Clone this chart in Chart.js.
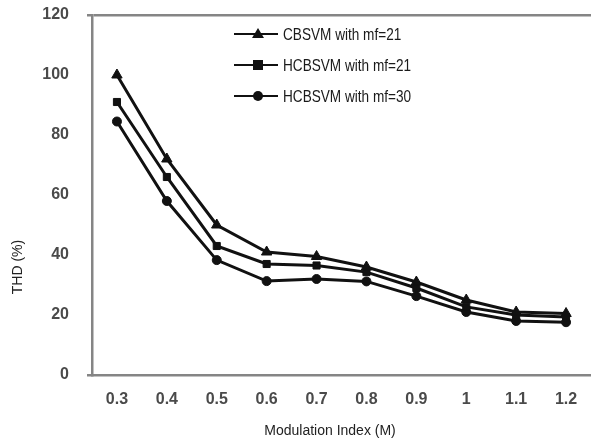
<!DOCTYPE html>
<html>
<head>
<meta charset="utf-8">
<script src="https://cdn.jsdelivr.net/npm/chart.js@4"></script>
<style>
  html, body { margin: 0; padding: 0; background: #fff; }
  #wrap { width: 591px; height: 442px; }
</style>
</head>
<body>
<div id="wrap"><canvas id="thd"></canvas></div>
<script>
const modIndex = ['0.3', '0.4', '0.5', '0.6', '0.7', '0.8', '0.9', '1', '1.1', '1.2'];
const cbsvm21  = [100, 72, 50, 41, 39.5, 36, 31, 25, 21, 20.5];
const hcbsvm21 = [91, 66, 43, 37, 36.5, 34.3, 29, 22.7, 20, 19.3];
const hcbsvm30 = [84.5, 58, 38.3, 31.3, 32, 31.2, 26.3, 21, 18, 17.6];
const yTicks = [0, 20, 40, 60, 80, 100, 120];

const axisGray = '#858585';

// legend + axis titles drawn inside the frame like the original figure
const figureText = {
  id: 'figureText',
  afterDraw(chart) {
    const c = chart.ctx;
    c.save();
    // legend
    chart.data.datasets.forEach((ds, i) => {
      const y = 34 + i * 31;
      c.strokeStyle = '#111';
      c.lineWidth = 2;
      c.beginPath();
      c.moveTo(234, y);
      c.lineTo(278, y);
      c.stroke();
      c.fillStyle = '#111';
      const m = 258;
      c.beginPath();
      if (ds.pointStyle === 'triangle') {
        c.moveTo(m, y - 6); c.lineTo(m + 6, y + 4); c.lineTo(m - 6, y + 4);
      } else if (ds.pointStyle === 'rect') {
        c.rect(m - 5, y - 5, 10, 10);
      } else {
        c.arc(m, y, 5, 0, Math.PI * 2);
      }
      c.fill();
      c.save();
      c.fillStyle = '#1a1a1a';
      c.font = '17px "Liberation Sans", sans-serif';
      c.textBaseline = 'middle';
      c.textAlign = 'left';
      c.translate(283, y + 1);
      c.scale(0.8, 1);
      c.fillText(ds.label, 0, 0);
      c.restore();
    });
    // axis titles
    c.fillStyle = '#222';
    c.font = '14px "Liberation Sans", sans-serif';
    c.textAlign = 'center';
    c.textBaseline = 'middle';
    c.fillText('Modulation Index (M)', 330, 431);
    c.translate(18, 267);
    c.rotate(-Math.PI / 2);
    c.fillText('THD (%)', 0, 0);
    c.restore();
  }
};

const line = (label, data, style, r) => ({
  label: label,
  data: data,
  borderColor: '#111',
  backgroundColor: '#111',
  borderWidth: 3,
  pointStyle: style,
  pointRadius: r,
  pointBorderWidth: 1,
  tension: 0
});

new Chart(document.getElementById('thd'), {
  type: 'line',
  data: {
    labels: modIndex,
    datasets: [
      line('CBSVM with mf=21', cbsvm21, 'triangle', 6),
      line('HCBSVM with mf=21', hcbsvm21, 'rect', 5),
      line('HCBSVM with mf=30', hcbsvm30, 'circle', 4.5)
    ]
  },
  options: {
    responsive: true,
    maintainAspectRatio: false,
    animation: false,
    layout: { autoPadding: false, padding: { top: 15, right: 0, left: 0, bottom: 0 } },
    plugins: {
      legend: { display: false },
      tooltip: { enabled: false }
    },
    scales: {
      x: {
        offset: true,
        grid: { display: false, drawTicks: false },
        border: { color: axisGray, width: 2.5 },
        ticks: {
          color: '#4a4a4a',
          padding: 15,
          maxRotation: 0,
          font: { family: 'Liberation Sans', size: 16, weight: 'bold' }
        },
        afterFit: s => { s.height = 67; s.paddingLeft = 0; s.paddingRight = 0; }
      },
      y: {
        min: 0,
        max: 120,
        afterBuildTicks: s => { s.ticks = yTicks.map(v => ({ value: v })); },
        grid: {
          drawOnChartArea: true,
          color: ctx => ctx.tick && ctx.tick.value === 120 ? axisGray : 'transparent',
          lineWidth: 2.5,
          tickColor: ctx => ctx.tick && (ctx.tick.value === 120 || ctx.tick.value === 0) ? axisGray : 'transparent',
          tickLength: 5
        },
        border: { color: axisGray, width: 2.5 },
        ticks: {
          color: '#4a4a4a',
          padding: 18,
          font: { family: 'Liberation Sans', size: 16, weight: 'bold' }
        },
        afterFit: s => { s.width = 92; s.paddingTop = 0; s.paddingBottom = 0; }
      }
    }
  },
  plugins: [figureText]
});
</script>
</body>
</html>
